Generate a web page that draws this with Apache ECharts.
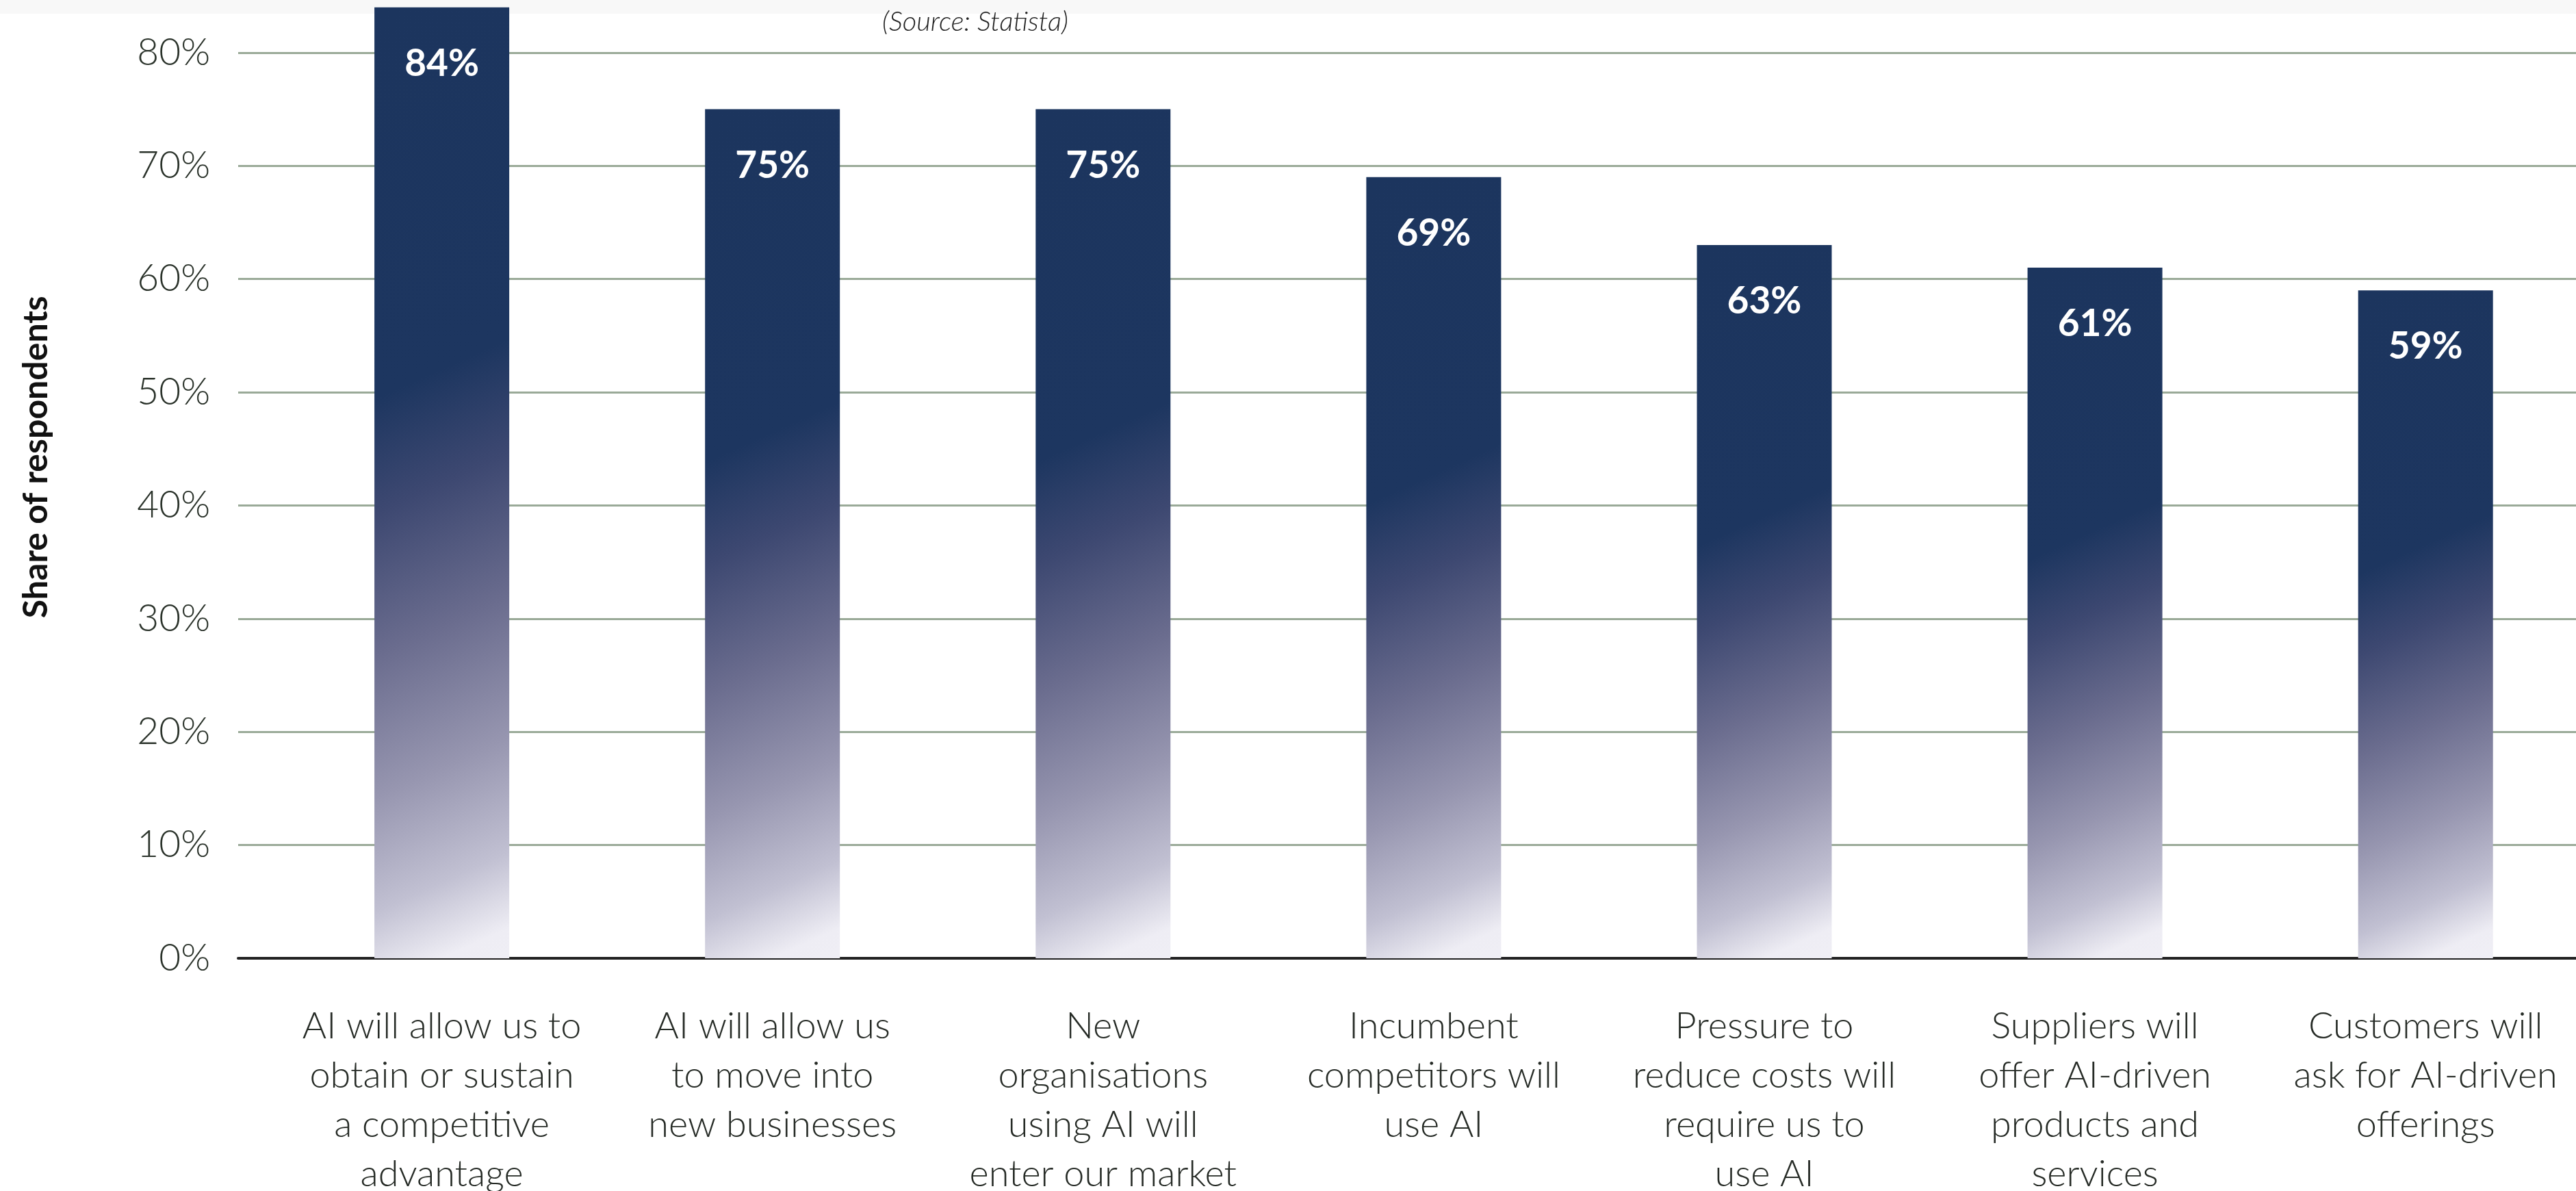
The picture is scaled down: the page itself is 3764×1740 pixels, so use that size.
<!DOCTYPE html>
<html>
<head>
<meta charset="utf-8">
<script src="https://cdn.jsdelivr.net/npm/echarts@6/dist/echarts.min.js"></script>
<style>
    html, body { margin: 0; padding: 0; background: #fff; }
    #chart { width: 3764px; height: 1740px; }
</style>
</head>
<body>
<div id="chart"></div>
<script>
var categories = [
    "AI will allow us to\nobtain or sustain\na competitive\nadvantage",
    "AI will allow us\nto move into\nnew businesses",
    "New\norganisations\nusing AI will\nenter our market",
    "Incumbent\ncompetitors will\nuse AI",
    "Pressure to\nreduce costs will\nrequire us to\nuse AI",
    "Suppliers will\noffer AI-driven\nproducts and\nservices",
    "Customers will\nask for AI-driven\nofferings"
];
var shares = [84, 75, 75, 69, 63, 61, 59];
var catIndex = [0, 1, 2, 3, 4, 5, 6];

var barData = catIndex.map(function (i) {
    return [i, shares[i]];
});

// colour stops along the bar height (0 = top, 1 = bottom)
var fadeStops = [
    [0, '#1c355e'],
    [0.38, '#1d3660'],
    [0.5, '#3d4871'],
    [0.65, '#6a6c8e'],
    [0.8, '#9796b0'],
    [0.92, '#c1c0d2'],
    [1, '#eeedf4']
];

var BAR_W = 197;
var PX_PER_PCT = 16.54;
var SLANT = 0.45;

// slanted fade: lighter towards the bottom right
function barFade(params) {
    var h = params.value[1] * PX_PER_PCT;
    var k = SLANT * h / BAR_W;
    var n = 1 + SLANT * SLANT;
    var shift = SLANT * BAR_W / (2 * h);
    var stops = fadeStops.map(function (s) {
        return { offset: Math.min(1, (shift + s[0]) / n), color: s[1] };
    });
    stops[0].offset = 0;
    stops.push({ offset: 1, color: '#f4f3f8' });
    return new echarts.graphic.LinearGradient(0, 0, k, 1, stops);
}

getechart("chart", {
    animation: false,
    graphic: [
        {
            type: 'rect',
            left: 0,
            top: 0,
            shape: { width: 3764, height: 20 },
            style: { fill: '#f8f8f8' },
            z: -1
        },
        {
            type: 'text',
            left: 1289,
            top: 12,
            style: {
                text: '(Source: Statista)',
                fontFamily: 'Lato',
                fontStyle: 'italic',
                fontWeight: 300,
                fontSize: 40,
                fill: '#222'
            }
        }
    ],
    grid: {
        left: 348,
        right: 0,
        top: -88.6,
        bottom: 340,
        outerBoundsMode: 'none',
        containLabel: false
    },
    xAxis: {
        type: 'value',
        min: -0.616,
        max: 6.455,
        splitLine: { show: false },
        axisTick: { show: false },
        axisLine: {
            show: true,
            lineStyle: { color: '#222', width: 4 }
        },
        axisLabel: {
            customValues: catIndex,
            formatter: function (v) {
                return categories[Math.round(v)];
            },
            margin: 64,
            fontFamily: 'Lato',
            fontWeight: 300,
            fontSize: 54,
            lineHeight: 72,
            color: '#262b26',
            align: 'center',
            verticalAlign: 'top'
        }
    },
    yAxis: {
        type: 'value',
        min: 0,
        max: 90,
        interval: 10,
        name: 'Share of respondents',
        nameLocation: 'middle',
        nameGap: 270,
        nameTextStyle: {
            fontFamily: 'Lato',
            fontWeight: 'bold',
            fontSize: 50,
            color: '#111',
            padding: [0, 24, 0, 0]
        },
        axisLine: { show: false },
        axisTick: { show: false },
        axisLabel: {
            formatter: '{value}%',
            margin: 41,
            fontFamily: 'Lato',
            fontWeight: 300,
            fontSize: 55,
            color: '#2b332b'
        },
        splitLine: {
            lineStyle: { color: '#9aaa98', width: 3 }
        }
    },
    series: [
        {
            type: 'bar',
            barWidth: BAR_W,
            data: barData,
            itemStyle: { color: barFade },
            label: {
                show: true,
                position: 'insideTop',
                distance: 55,
                formatter: function (p) {
                    return p.value[1] + '%';
                },
                fontFamily: 'Lato',
                fontWeight: 'bold',
                fontSize: 55,
                color: '#fff'
            }
        }
    ]
});

function getechart(idName, idOption) {
    var chart = echarts.init(document.getElementById(idName));
    chart.setOption(idOption);
    window.addEventListener('resize', function () {
        chart.resize();
    });
}
</script>
</body>
</html>
